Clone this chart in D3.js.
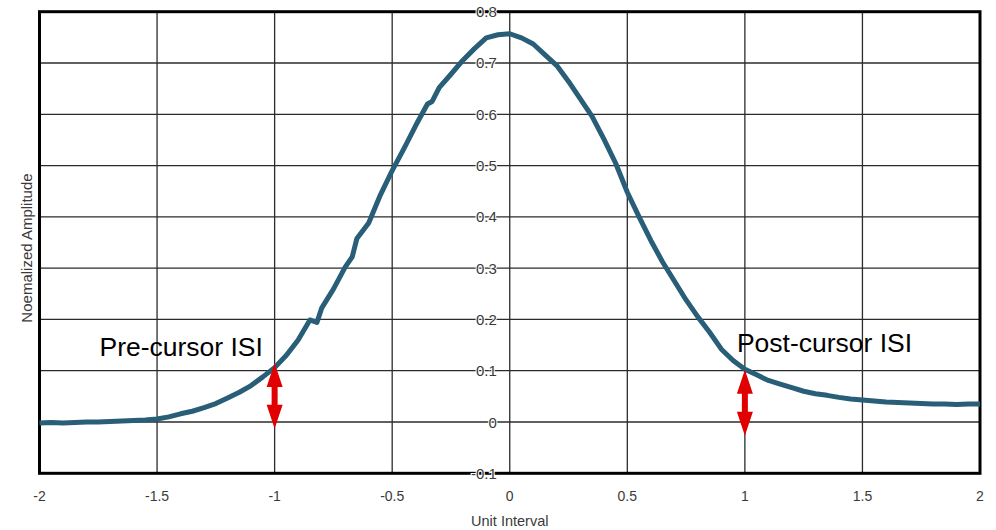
<!DOCTYPE html>
<html>
<head>
<meta charset="utf-8">
<script src="https://cdn.jsdelivr.net/npm/d3@7"></script>
<style>
  body { margin: 0; background: #fff; }
  svg { display: block; font-family: "Liberation Sans", Arial, sans-serif; }
</style>
</head>
<body>
<div id="chart"></div>
<script>
// pulse response, x in unit intervals
const unitInterval = [-2.00, -1.95, -1.90, -1.85, -1.80, -1.75, -1.70, -1.65, -1.60, -1.55,
  -1.50, -1.45, -1.40, -1.35, -1.30, -1.25, -1.20, -1.15, -1.10, -1.05,
  -1.00, -0.95, -0.90, -0.85, -0.82, -0.80, -0.75, -0.70, -0.67, -0.65, -0.60, -0.55,
  -0.50, -0.45, -0.40, -0.35, -0.33, -0.30, -0.25, -0.20, -0.15, -0.10, -0.05,
  0.00, 0.05, 0.10, 0.15, 0.20, 0.25, 0.30, 0.35, 0.40, 0.45,
  0.50, 0.55, 0.60, 0.65, 0.70, 0.75, 0.80, 0.85, 0.90, 0.95,
  1.00, 1.05, 1.10, 1.15, 1.20, 1.25, 1.30, 1.35, 1.40, 1.45,
  1.50, 1.55, 1.60, 1.65, 1.70, 1.75, 1.80, 1.85, 1.90, 1.95, 2.00];
const amplitude = [-0.002, -0.001, -0.002, -0.001, 0.000, 0.000, 0.001, 0.002, 0.003, 0.004,
  0.006, 0.010, 0.016, 0.021, 0.028, 0.036, 0.047, 0.058, 0.071, 0.088,
  0.106, 0.130, 0.160, 0.199, 0.194, 0.222, 0.259, 0.302, 0.322, 0.358, 0.388, 0.443,
  0.490, 0.533, 0.578, 0.620, 0.625, 0.652, 0.678, 0.705, 0.728, 0.749, 0.755,
  0.757, 0.749, 0.737, 0.716, 0.695, 0.664, 0.630, 0.596, 0.552, 0.505,
  0.448, 0.400, 0.354, 0.312, 0.275, 0.238, 0.205, 0.175, 0.142, 0.120,
  0.103, 0.092, 0.081, 0.074, 0.067, 0.060, 0.055, 0.052, 0.048, 0.045,
  0.043, 0.041, 0.039, 0.038, 0.037, 0.036, 0.035, 0.035, 0.034, 0.035, 0.035];

const xTicks = [-2, -1.5, -1, -0.5, 0, 0.5, 1, 1.5, 2];
const yTicks = [-0.1, 0, 0.1, 0.2, 0.3, 0.4, 0.5, 0.6, 0.7, 0.8];

// ISI arrows: position, top, bottom
const arrowX = [-1, 1];
const arrowTop = [0.115, 0.102];
const arrowBottom = [-0.013, -0.027];
const labels = ["Pre-cursor ISI", "Post-cursor ISI"];
const labelX = [-1.745, 0.966];
const labelY = [0.128, 0.136];

var width = 996,
  height = 530;

var svg = d3.select('#chart').append('svg')
  .attr('width', width)
  .attr('height', height);

var x = d3.scaleLinear()
  .domain([-2, 2])
  .range([39.5, 980]);
var y = d3.scaleLinear()
  .domain([-0.1, 0.8])
  .range([473.3, 11.7]);

// grid
svg.append('g')
  .selectAll('line')
  .data(yTicks)
  .enter().append('line')
  .attr('x1', x(-2)).attr('x2', x(2))
  .attr('y1', d => y(d)).attr('y2', d => y(d))
  .attr('stroke', '#2b2b2b')
  .attr('stroke-width', 1.3);

svg.append('g')
  .selectAll('line')
  .data(xTicks)
  .enter().append('line')
  .attr('x1', d => x(d)).attr('x2', d => x(d))
  .attr('y1', y(-0.1)).attr('y2', y(0.8))
  .attr('stroke', '#2b2b2b')
  .attr('stroke-width', 1.3);

// frame
svg.append('rect')
  .attr('x', x(-2)).attr('y', y(0.8))
  .attr('width', x(2) - x(-2))
  .attr('height', y(-0.1) - y(0.8))
  .attr('fill', 'none')
  .attr('stroke', '#000')
  .attr('stroke-width', 3);

// y tick labels sit on the zero line
svg.append('g')
  .selectAll('text')
  .data(yTicks)
  .enter().append('text')
  .attr('x', x(0) - 13)
  .attr('y', d => y(d) + 5.5)
  .attr('text-anchor', 'end')
  .attr('font-size', 15)
  .attr('fill', '#3a3a3a')
  .attr('stroke', '#fff')
  .attr('stroke-width', 2)
  .attr('paint-order', 'stroke')
  .text(d => d3.format('.1f')(d).replace('0.0', '0').replace('−', '-'));

svg.append('g')
  .selectAll('text')
  .data(xTicks)
  .enter().append('text')
  .attr('x', d => x(d))
  .attr('y', 501)
  .attr('text-anchor', 'middle')
  .attr('font-size', 14)
  .attr('fill', '#3a3a3a')
  .text(d => String(d));

svg.append('text')
  .attr('x', x(0))
  .attr('y', 526)
  .attr('text-anchor', 'middle')
  .attr('font-size', 14.5)
  .attr('fill', '#3a3a3a')
  .text('Unit Interval');

svg.append('text')
  .attr('transform', 'translate(32,248) rotate(-90)')
  .attr('text-anchor', 'middle')
  .attr('font-size', 15)
  .attr('fill', '#3a3a3a')
  .text('Noemalized Amplitude');

// pulse
var line = d3.line()
  .x((d, i) => x(unitInterval[i]))
  .y(d => y(d));

svg.append('path')
  .datum(amplitude)
  .attr('fill', 'none')
  .attr('stroke', '#285e77')
  .attr('stroke-width', 5)
  .attr('stroke-linejoin', 'round')
  .attr('d', line);

// double arrows
var head = 24, half = 8, shaft = 3;
svg.append('g')
  .selectAll('polygon')
  .data(arrowX)
  .enter().append('polygon')
  .attr('fill', '#e00000')
  .attr('points', function(d, i) {
    var cx = x(d), t = y(arrowTop[i]), b = y(arrowBottom[i]);
    return [
      [cx, t], [cx + half, t + head], [cx + shaft, t + head],
      [cx + shaft, b - head], [cx + half, b - head], [cx, b],
      [cx - half, b - head], [cx - shaft, b - head],
      [cx - shaft, t + head], [cx - half, t + head]
    ].join(' ');
  });

svg.append('g')
  .selectAll('text')
  .data(labels)
  .enter().append('text')
  .attr('x', (d, i) => x(labelX[i]))
  .attr('y', (d, i) => y(labelY[i]))
  .attr('font-size', 26.5)
  .attr('fill', '#000')
  .text(d => d);
</script>
</body>
</html>
